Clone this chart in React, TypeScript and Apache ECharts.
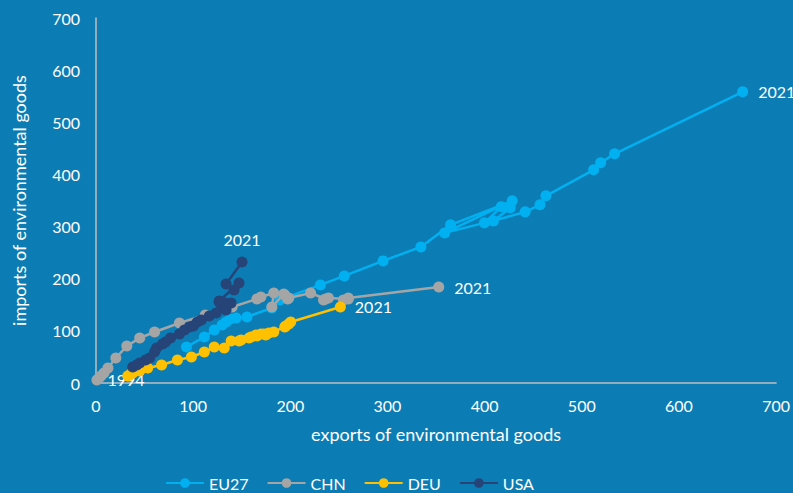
import React, { useEffect, useRef } from "react";
import * as echarts from "echarts";

const years = [1994, 1995, 1996, 1997, 1998, 1999, 2000, 2001, 2002, 2003, 2004, 2005, 2006, 2007, 2008, 2009, 2010, 2011, 2012, 2013, 2014, 2015, 2016, 2017, 2018, 2019, 2020, 2021];

const eu27Exports = [93.1, 111.5, 121.7, 129.8, 133.9, 138.0, 144.2, 155.4, 181.0, 189.1, 231.0, 255.6, 295.5, 334.4, 365.0, 428.4, 358.9, 399.8, 417.1, 426.4, 409.0, 441.7, 457.0, 463.1, 512.2, 519.4, 533.8, 665.6];
const eu27Imports = [69.1, 88.3, 101.7, 111.3, 117.1, 122.8, 124.8, 126.7, 144.0, 159.3, 188.1, 205.4, 234.2, 261.0, 303.3, 349.3, 287.9, 307.1, 337.8, 335.9, 310.9, 328.2, 341.7, 358.9, 408.8, 422.3, 439.5, 558.5];

const chnExports = [1.0, 3.1, 5.1, 8.2, 12.3, 20.4, 31.7, 45.0, 60.3, 85.9, 112.5, 140.1, 165.6, 169.7, 183.0, 181.0, 193.3, 197.3, 194.3, 198.4, 220.9, 236.2, 234.2, 239.3, 259.7, 254.6, 259.7, 352.8];
const chnImports = [5.8, 9.6, 13.4, 19.2, 28.8, 47.9, 70.8, 86.3, 97.8, 115.1, 130.4, 145.8, 161.1, 164.9, 172.6, 145.8, 170.7, 161.1, 168.8, 163.0, 172.6, 161.1, 159.2, 163.0, 161.1, 159.2, 163.0, 184.1];

const deuExports = [32.7, 35.8, 37.8, 45.0, 53.2, 67.5, 83.8, 98.2, 111.5, 121.7, 132.0, 139.1, 149.3, 157.5, 164.6, 147.2, 159.5, 169.7, 165.6, 174.8, 172.8, 177.9, 183.0, 195.3, 198.4, 194.3, 200.4, 251.5];
const deuImports = [13.4, 17.3, 19.2, 23.0, 28.8, 34.5, 44.1, 49.9, 59.4, 69.0, 67.1, 80.6, 82.5, 86.3, 92.1, 80.6, 88.2, 94.0, 90.1, 92.1, 94.0, 95.9, 97.8, 109.3, 113.2, 107.4, 117.0, 145.8];

const usaExports = [37.8, 41.9, 45.0, 51.1, 55.2, 60.3, 62.4, 68.5, 71.6, 76.7, 85.9, 91.0, 96.1, 104.3, 108.4, 100.2, 116.6, 123.7, 126.8, 133.9, 132.9, 139.1, 130.9, 126.8, 147.2, 142.1, 133.9, 150.3];
const usaImports = [30.7, 34.5, 38.4, 44.1, 48.0, 59.5, 67.1, 74.8, 78.6, 86.3, 94.0, 101.7, 107.4, 117.0, 120.9, 109.3, 128.5, 134.2, 155.3, 140.0, 153.4, 153.4, 147.7, 157.3, 191.8, 178.4, 189.9, 232.1];

const seriesNames = ["EU27", "CHN", "DEU", "USA"];
const seriesColors = ["#00b0f0", "#a5a5a5", "#ffc000", "#264478"];
const xTicks = [0, 100, 200, 300, 400, 500, 600, 700];
const yTicks = [0, 100, 200, 300, 400, 500, 600, 700];

const FONT = "Lato";
const TEXT = "#ffffff";

type LabelCfg = { position: string; distance: number };

function buildData(xs: number[], ys: number[], first: LabelCfg | null, last: LabelCfg | null) {
  return years.map((yr, i) => {
    const item: any = { value: [xs[i], ys[i]], name: String(yr) };
    let cfg: LabelCfg | null = null;
    if (i === 0 && first) cfg = first;
    if (i === years.length - 1 && last) cfg = last;
    if (cfg) {
      item.label = {
        show: true,
        formatter: String(yr),
        position: cfg.position,
        distance: cfg.distance,
        color: TEXT,
        fontFamily: FONT,
        fontSize: 16,
      };
    }
    return item;
  });
}

export default function App() {
  const ref = useRef<HTMLDivElement>(null);
  useEffect(() => {
    document.body.style.margin = "0";
    if (!ref.current) return;
    const chart = echarts.init(ref.current, undefined, { renderer: "svg" });
    const sets = [
      { x: eu27Exports, y: eu27Imports, first: null, last: { position: "right", distance: 10 } },
      { x: chnExports, y: chnImports, first: { position: "right", distance: 5 }, last: { position: "right", distance: 10 } },
      { x: deuExports, y: deuImports, first: null, last: { position: "right", distance: 9 } },
      { x: usaExports, y: usaImports, first: null, last: { position: "top", distance: 9 } },
    ];
    chart.setOption({
      animation: false,
      backgroundColor: "#0c7db4",
      textStyle: { fontFamily: FONT },
      grid: { left: 96, right: 13, top: 18, bottom: 110, containLabel: false },
      xAxis: {
        type: "value",
        min: xTicks[0],
        max: xTicks[xTicks.length - 1],
        interval: 100,
        name: "exports of environmental goods",
        nameLocation: "middle",
        nameGap: 42,
        nameTextStyle: { color: TEXT, fontSize: 18, fontFamily: FONT },
        axisLine: { show: true, onZero: false, lineStyle: { color: "#bfbfbf", width: 1.5 } },
        axisTick: { show: false },
        splitLine: { show: false },
        axisLabel: { color: TEXT, fontSize: 16, fontFamily: FONT, margin: 14 },
      },
      yAxis: {
        type: "value",
        min: yTicks[0],
        max: yTicks[yTicks.length - 1],
        interval: 100,
        name: "imports of environmental goods",
        nameLocation: "middle",
        nameGap: 68,
        nameTextStyle: { color: TEXT, fontSize: 18, fontFamily: FONT },
        axisLine: { show: true, onZero: false, lineStyle: { color: "#bfbfbf", width: 1.5 } },
        axisTick: { show: false },
        splitLine: { show: false },
        axisLabel: { color: TEXT, fontSize: 16, fontFamily: FONT, margin: 16 },
      },
      legend: {
        left: 160,
        top: 470,
        itemWidth: 38,
        itemHeight: 12,
        itemGap: 18,
        textStyle: { color: TEXT, fontSize: 16, fontFamily: FONT },
        data: seriesNames,
      },
      series: sets.map((s, i) => ({
        type: "line",
        name: seriesNames[i],
        data: buildData(s.x, s.y, s.first as any, s.last as any),
        symbol: "circle",
        symbolSize: 11,
        color: seriesColors[i],
        itemStyle: { color: seriesColors[i] },
        lineStyle: { color: seriesColors[i], width: 2.5 },
        z: 2 + i,
      })),
    });
    return () => chart.dispose();
  }, []);
  return <div ref={ref} style={{ width: 793, height: 493 }} />;
}
